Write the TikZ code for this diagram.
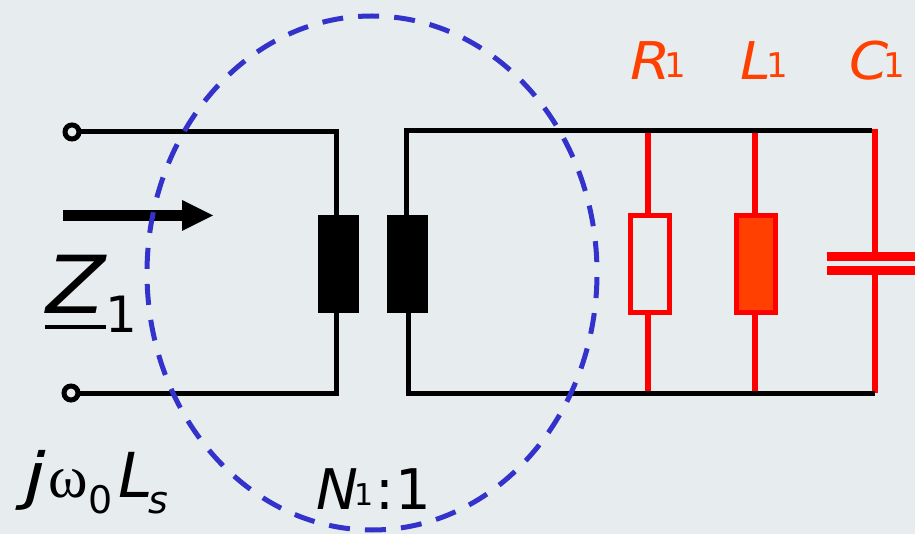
\documentclass[tikz,border=0pt]{standalone}
\usepackage{fontspec}
\setmainfont{DejaVu Sans}
\newfontfamily\serfont{Liberation Serif}
\definecolor{bgc}{HTML}{E7ECEF}
\definecolor{wred}{HTML}{FF0000}
\definecolor{lblred}{HTML}{FF4000}
\definecolor{dashblue}{HTML}{3333CC}
\newcommand{\fs}[1]{\fontsize{#1}{#1}\selectfont}
\newcommand{\redlabel}[3]{\scalebox{#2}[1]{\fs{52}\itshape #1}\hspace{#3}\raisebox{2pt}{\fs{34}1}}
\tikzset{
  wire/.style={draw=black,line width=5pt},
  redwire/.style={draw=wred,line width=5.5pt},
  coil/.style={draw=none,fill=black,minimum width=41pt,minimum height=98pt,inner sep=0pt,outer sep=0pt},
  rbox/.style={draw=wred,line width=5pt,minimum width=39pt,minimum height=97pt,inner sep=0pt,outer sep=0pt},
  term/.style={circle,draw=black,line width=5pt,fill=bgc,minimum size=14pt,inner sep=0pt,outer sep=0pt},
  txt/.style={anchor=base west,inner sep=0pt,outer sep=0pt},
  redlbl/.style={txt,text=lblred},
  plate/.style={draw=none,fill=wred,minimum width=88pt,minimum height=9pt,inner sep=0pt,outer sep=0pt}
}
\begin{document}
\begin{tikzpicture}[x=1pt,y=-1pt]
\useasboundingbox (0,0) rectangle (915,534);
\fill[bgc] (0,0) rectangle (915,534);
% circuit nodes
\node[coil] (c1) at (338.5,264.5) {};
\node[coil] (c2) at (407.5,264.5) {};
\node[rbox] (r1) at (650,264) {};
\node[rbox,fill=lblred] (l1) at (756,264) {};
\node[plate] (p1) at (871,256.5) {};
\node[plate] (p2) at (871,270.5) {};
\node[term] (t1) at (72,132) {};
\node[term] (t2) at (71,393) {};
\coordinate (topL) at (336,132);
\coordinate (botL) at (336,393);
\coordinate (topR) at (406,131);
\coordinate (botR) at (408,393);
\coordinate (topE) at (872,131);
\coordinate (botE) at (875,393);
\coordinate (rt) at (648,131);
\coordinate (rb) at (648,393);
\coordinate (lt) at (755,131);
\coordinate (lb) at (755,393);
\coordinate (ct) at (875,129);
\coordinate (cb) at (875,393);
\coordinate (cu) at (875,252);
\coordinate (cl) at (875,275);
\coordinate (rtop) at (648,215);
\coordinate (rbot) at (648,313);
\coordinate (c1t) at (336,216);
\coordinate (c1b) at (336,313);
\coordinate (c2t) at (406,216);
\coordinate (c2b) at (408,313);
% red branches
\draw[redwire] (rt) -- (rtop);
\draw[redwire] (rbot) -- (rb);
\draw[redwire] (lt) -- (l1.north -| lt);
\draw[redwire] (l1.south -| lb) -- (lb);
\draw[redwire] (ct) -- (cu);
\draw[redwire] (cl) -- (cb);
% black wires
\draw[wire,line join=miter] (t1) -- (topL) -- (c1t);
\draw[wire,line join=miter] (t2) -- (botL) -- (c1b);
\draw[wire,line join=miter] (c2t) -- (topR) -- (topE);
\draw[wire,line join=miter] (c2b) -- (botR) -- (botE);
% impedance arrow
\coordinate (as) at (63,215);
\fill[black] (as |- 0,210) rectangle (183,221);
\fill[black] (182,200) -- (213,215.5) -- (182,231) -- cycle;
% dashed ellipse
\draw[dashblue,line width=5pt,dash pattern=on 21pt off 15.1pt,dash phase=32pt] (372,273) ellipse [x radius=225,y radius=257];
% labels
\node[txt,xscale=1.08] (z) at (46,314) {\fs{80}\itshape Z};
\node[txt] (z1) at (105,333) {\fs{50}1};
\fill[black] (45,325.5) rectangle (106,329.5);
\node[txt,xscale=1.25] (j) at (24,497) {\fs{62}\itshape j};
\node[txt] (w) at (48,497) {\fs{60}\serfont ω};
\node[txt] (zero) at (88,513) {\fs{38}0};
\node[txt] (ls) at (118,497) {\fs{62}\itshape L};
\node[txt] (lss) at (148,513) {\fs{38}\itshape s};
\node[txt] (n) at (316,509) {\fs{56}{\itshape N}\hspace{-3pt}\raisebox{4pt}{\fs{30}1}\hspace{2pt}:\hspace{1pt}1};
\node[redlbl] (rl) at (630,80) {\redlabel{R}{1.12}{-6.4pt}};
\node[redlbl] (ll) at (740,80) {\redlabel{L}{1.06}{-4.7pt}};
\node[redlbl] (cl1) at (849,80) {\redlabel{C}{1.08}{-5.2pt}};
\end{tikzpicture}
\end{document}
